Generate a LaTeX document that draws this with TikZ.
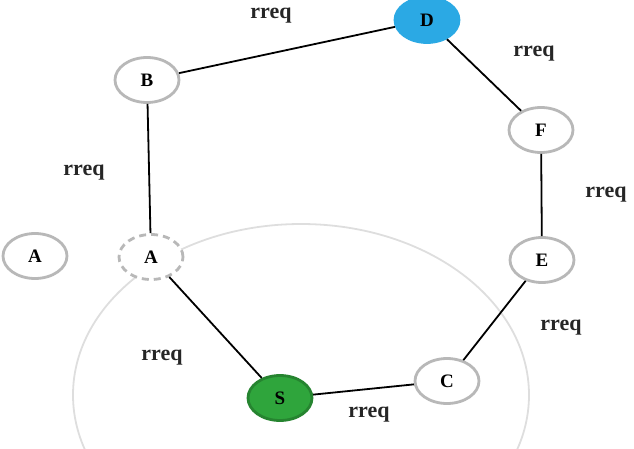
\documentclass[tikz,border=0pt]{standalone}
\usepackage{fontspec}
\setmainfont{Liberation Serif}
\usetikzlibrary{shapes.geometric}
\definecolor{ringgray}{HTML}{B8B8B8}
\definecolor{biggray}{HTML}{DEDEDE}
\definecolor{dblue}{HTML}{2BA9E4}
\definecolor{sgreen}{HTML}{2FA53C}
\tikzset{
  vnode/.style={ellipse, draw=ringgray, line width=2.8pt, fill=white, minimum width=64pt, minimum height=45pt, inner sep=0pt, font=\fontsize{19}{21}\selectfont\bfseries},
  dashnode/.style={vnode, dashed, dash pattern=on 7pt off 5pt},
  link/.style={draw=black, line width=1.8pt},
  lbl/.style={font=\fontsize{22}{24}\selectfont\bfseries, text=black!85}
}
\begin{document}
\begin{tikzpicture}[x=1pt,y=-1pt]
\useasboundingbox (0,0) rectangle (634,449);
\draw[biggray, line width=1.8pt] (301,395) ellipse [x radius=228, y radius=171];
\node[vnode] (B) at (147,80) {B};
\node[vnode, fill=dblue, draw=dblue] (D) at (427,20) {D};
\node[vnode] (F) at (541,130) {F};
\node[vnode] (E) at (542,260) {E};
\node[vnode] (C) at (447,381) {C};
\node[vnode, fill=sgreen, draw=sgreen!80!black] (S) at (280,398) {S};
\node[dashnode] (A2) at (151,257) {A};
\node[vnode] (A1) at (35,256) {A};
\draw[link] (B) -- (D);
\draw[link] (D) -- (F);
\draw[link] (F) -- (E);
\draw[link] (E) -- (C);
\draw[link] (C) -- (S);
\draw[link] (S) -- (A2);
\draw[link] (A2) -- (B);
\node[lbl] (l1) at (271,16) {rreq};
\node[lbl] (l2) at (534,54) {rreq};
\node[lbl] (l3) at (84,173) {rreq};
\node[lbl] (l4) at (606,195) {rreq};
\node[lbl] (l5) at (561,328) {rreq};
\node[lbl] (l6) at (162,358) {rreq};
\node[lbl] (l7) at (369,415) {rreq};
\end{tikzpicture}
\end{document}
